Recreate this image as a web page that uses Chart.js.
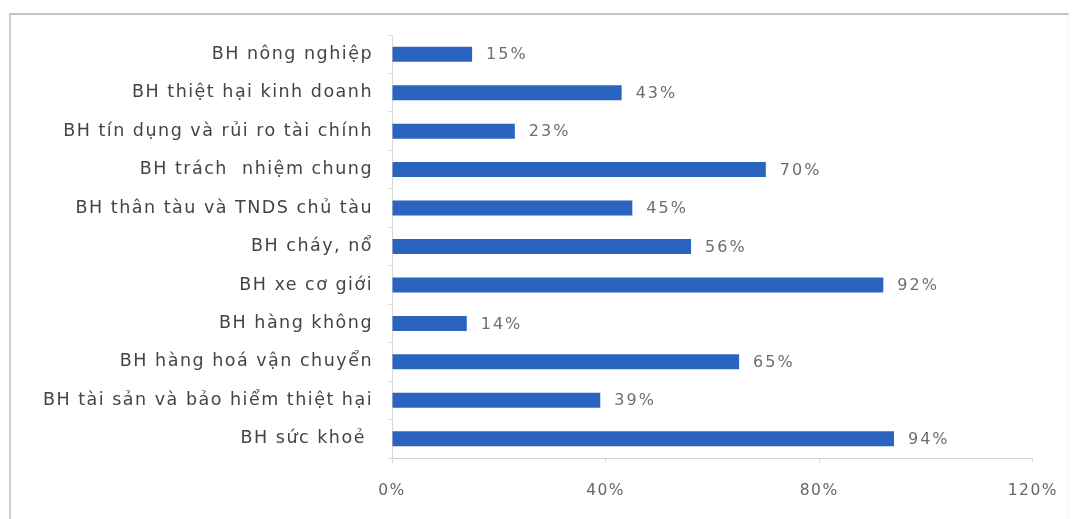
<!DOCTYPE html>
<html>
<head>
<meta charset="utf-8">
<script src="https://cdn.jsdelivr.net/npm/chart.js@4"></script>
<style>
  html, body { margin: 0; padding: 0; background: #ffffff; }
  #wrap { position: relative; width: 1074px; height: 519px; }
  #frame {
    position: absolute; left: 9px; top: 13px; width: 1060px; height: 520px;
    border-top: 2px solid #c4c4c4; border-left: 2px solid #cfcfcf; border-right: 1px solid #f3f3f3;
    box-sizing: border-box; pointer-events: none;
  }
  canvas { position: absolute; left: 0; top: 0; }
</style>
</head>
<body>
<div id="wrap">
  <canvas id="c" width="1074" height="519"></canvas>
  <div id="frame"></div>
</div>
<script>
// Insurance lines and their shares (%)
const categories = [
  "BH nông nghiệp",
  "BH thiệt hại kinh doanh",
  "BH tín dụng và rủi ro tài chính",
  "BH trách  nhiệm chung",
  "BH thân tàu và TNDS chủ tàu",
  "BH cháy, nổ",
  "BH xe cơ giới",
  "BH hàng không",
  "BH hàng hoá vận chuyển",
  "BH tài sản và bảo hiểm thiệt hại",
  "BH sức khoẻ "
];
const shares = [15, 43, 23, 70, 45, 56, 92, 14, 65, 39, 94];
const xTicks = [0, 40, 80, 120];

const PLOT_LEFT = 392;
const FONT = '"DejaVu Sans", sans-serif';

// Wide letter spacing for every text drawn on the canvas
const spacedText = {
  id: 'spacedText',
  beforeDraw(chart) { chart.ctx.letterSpacing = '1.5px'; },
  afterDraw(chart) { chart.ctx.letterSpacing = '0px'; }
};

// Writes the percentage just past the end of each bar
const valueLabels = {
  id: 'valueLabels',
  afterDatasetsDraw(chart) {
    const ctx = chart.ctx;
    const meta = chart.getDatasetMeta(0);
    ctx.save();
    ctx.font = '16px ' + FONT;
    ctx.letterSpacing = '2px';
    ctx.fillStyle = '#6e6e6e';
    ctx.textAlign = 'left';
    ctx.textBaseline = 'middle';
    meta.data.forEach((bar, i) => {
      ctx.fillText(shares[i] + '%', bar.x + 14, bar.y + 1);
    });
    ctx.restore();
  }
};

new Chart(document.getElementById('c'), {
  type: 'bar',
  data: {
    labels: categories,
    datasets: [{
      data: shares,
      backgroundColor: '#2b63c0',
      borderWidth: 0,
      categoryPercentage: 1,
      barPercentage: 0.39
    }]
  },
  options: {
    indexAxis: 'y',
    responsive: false,
    animation: false,
    layout: { padding: { top: 35, right: 40, left: 0, bottom: 0 } },
    plugins: { legend: { display: false }, tooltip: { enabled: false } },
    scales: {
      x: {
        min: 0, max: 120,
        afterBuildTicks(scale) { scale.ticks = xTicks.map(v => ({ value: v })); },
        afterFit(scale) { scale.height = 61; },
        grid: { drawOnChartArea: false, tickLength: 5, color: '#dddddd' },
        border: { color: '#d4d4d4', width: 1 },
        ticks: {
          padding: 19,
          color: '#666666',
          font: { family: FONT, size: 15.5 },
          callback: v => v + '%'
        }
      },
      y: {
        afterFit(scale) { scale.width = PLOT_LEFT; },
        grid: { drawOnChartArea: false, tickLength: 4, color: '#f0d8c8', offset: true },
        border: { color: '#d8d8d8', width: 1 },
        ticks: {
          padding: 15,
          color: '#444444',
          font: { family: FONT, size: 17.5 }
        }
      }
    }
  },
  plugins: [spacedText, valueLabels]
});
</script>
</body>
</html>
